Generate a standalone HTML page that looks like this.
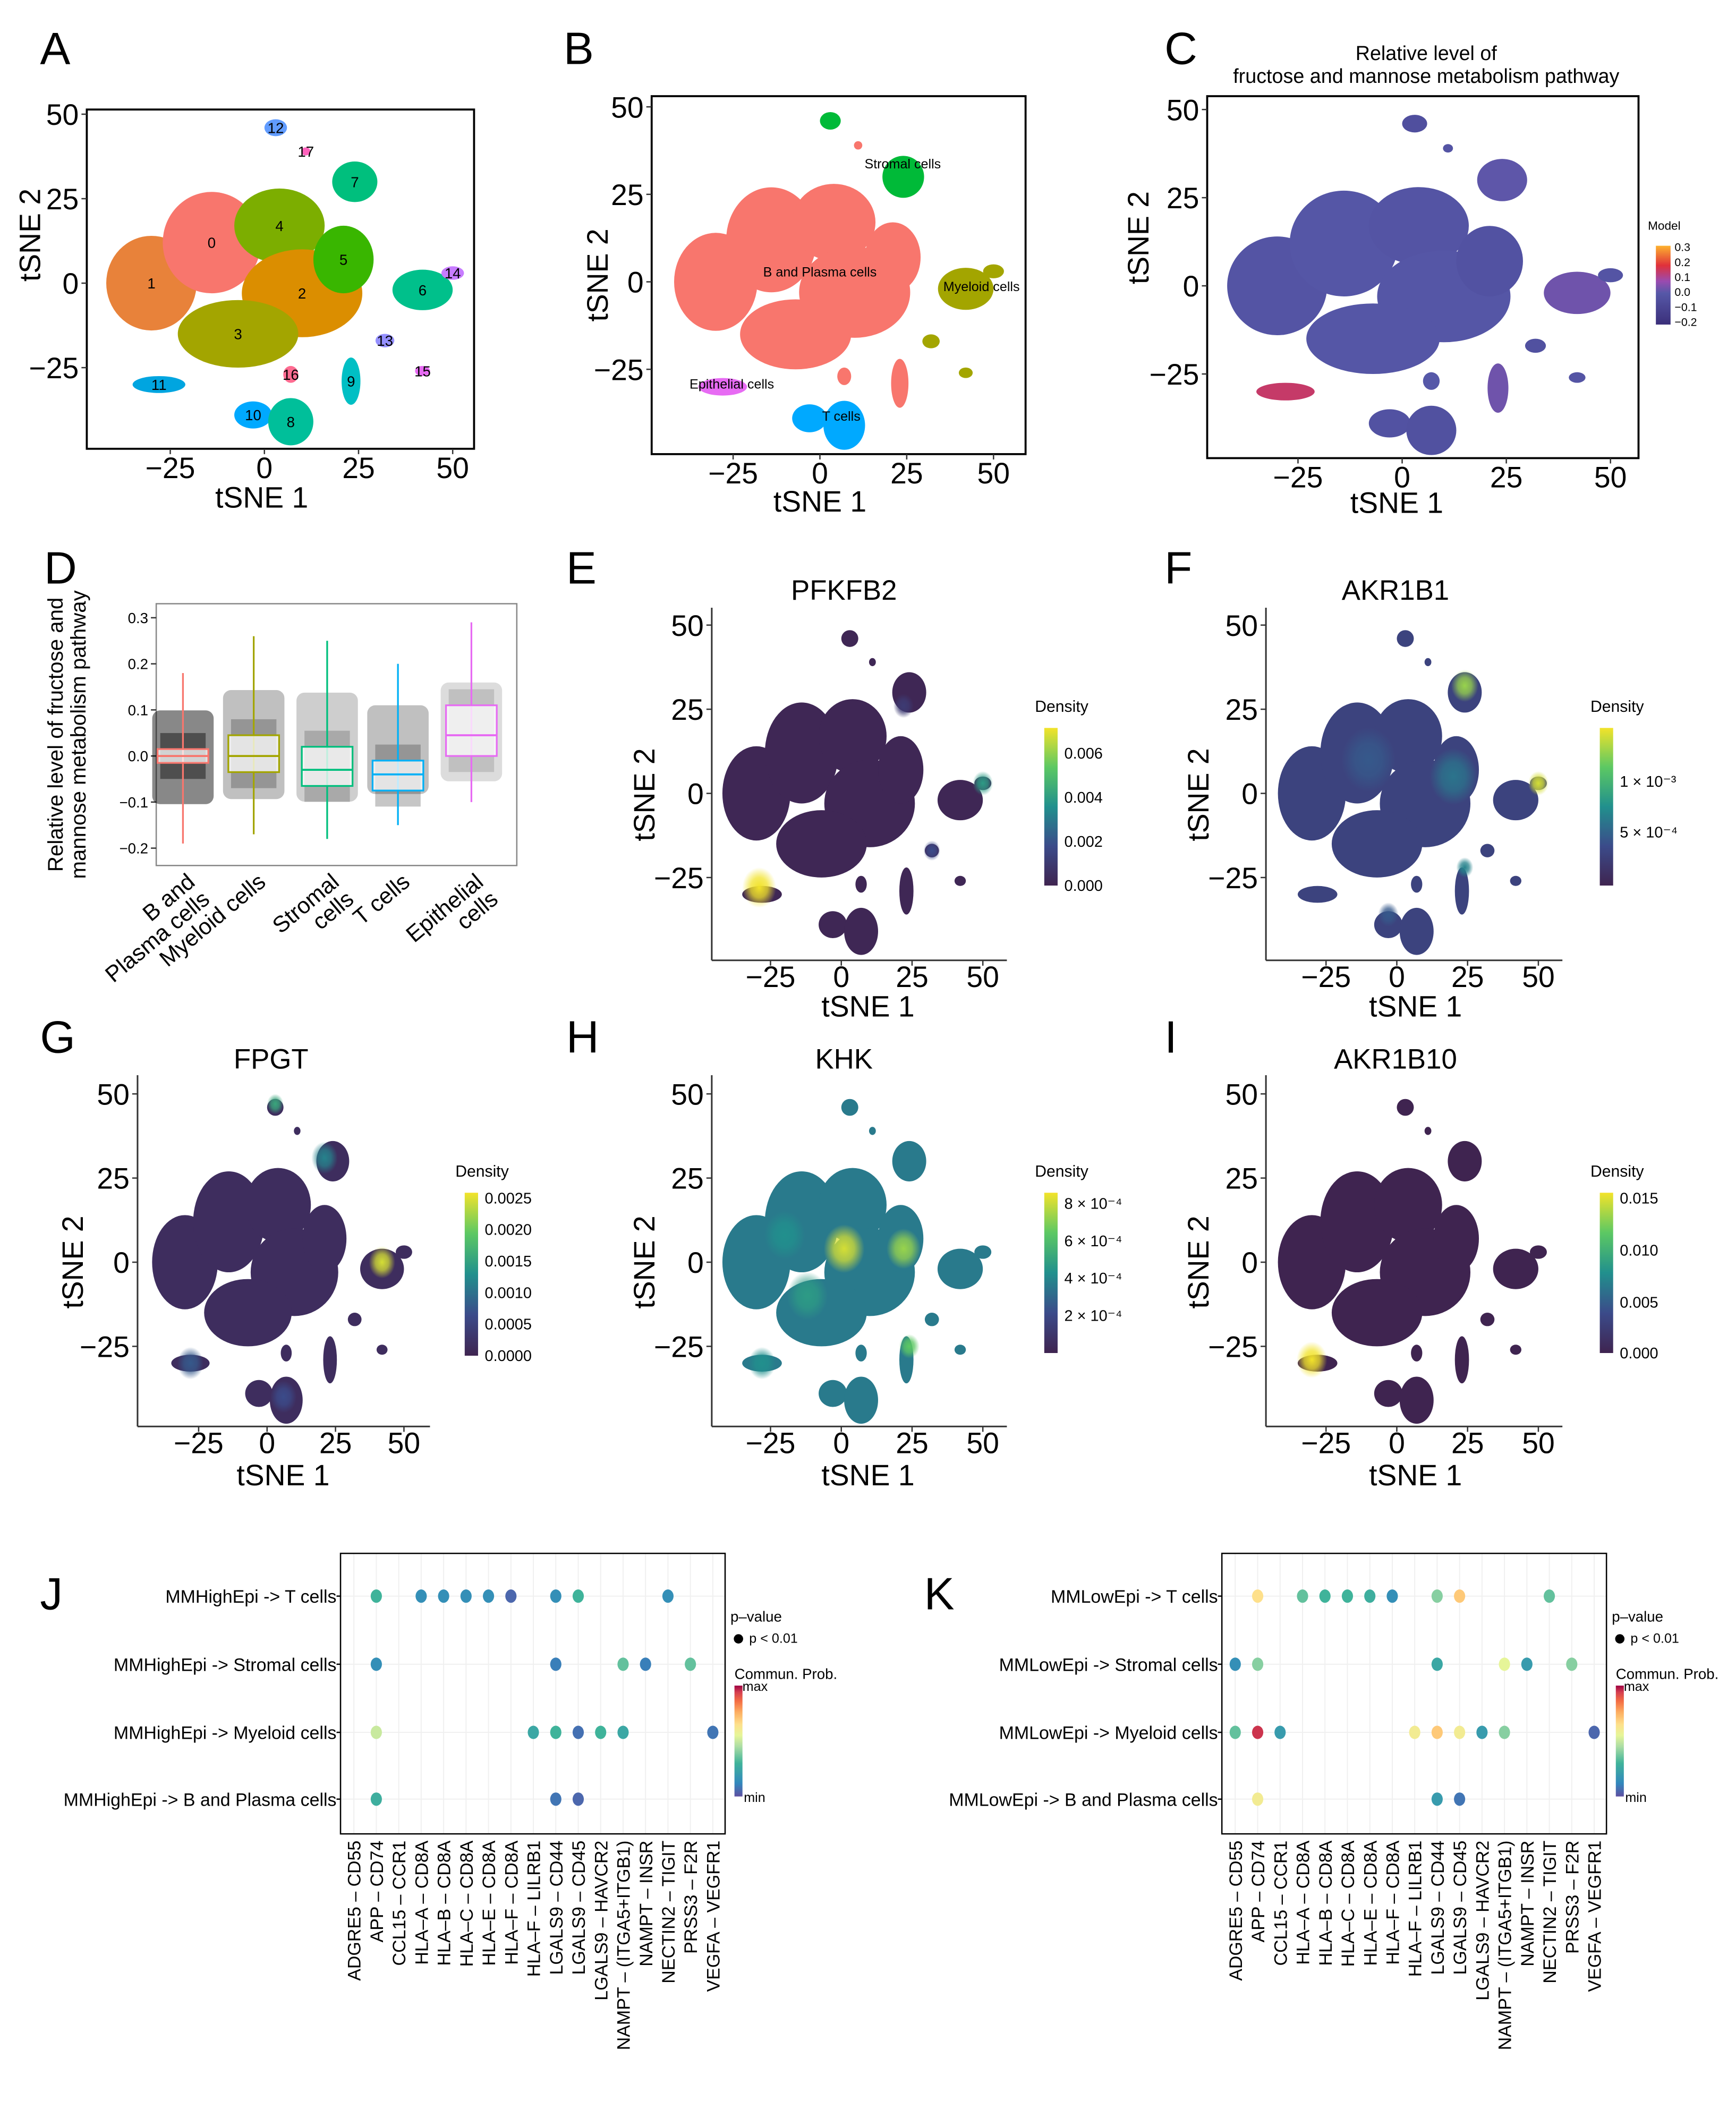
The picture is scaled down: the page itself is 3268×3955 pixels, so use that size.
<!DOCTYPE html>
<html><head><meta charset="utf-8">
<style>
html,body{margin:0;padding:0;background:#fff;}
svg{display:block;font-family:"Liberation Sans",Arial,sans-serif;}
</style></head>
<body>
<svg id="fig" xmlns="http://www.w3.org/2000/svg" width="3268" height="3955" viewBox="0 0 1300 1573" preserveAspectRatio="none">
<rect x="0" y="0" width="1300" height="1573" fill="#fff"/>
<defs id="defs"></defs>
<g id="root"></g>
</svg>
<script>
// ---------- DATA ----------
const clusterIds   = [1,0,4,2,3,5,7,12,17,6,14,13,15,9,16,10,8,11];
const clusterX     = [-30,-14,4,10,-7,21,24,3,11,42,50,32,42,23,7,-3,7,-28];
const clusterY     = [0,12,17,-3,-15,7,30,46,39,-2,3,-17,-26,-29,-27,-39,-41,-30];
const clusterRX    = [12,13,12,16,16,8,6,3,1.2,8,3,2.5,2,2.5,2,5,6,7];
const clusterRY    = [14,15,11,13,10,10,6,2.5,1.2,6,2,2,1.5,7,2.5,4,7,2.5];
const colorA       = ['#e8823a','#f8766d','#7cae00','#db8e00','#a3a500','#39b600','#00bf7d','#619cff','#ff62bc','#00c08b','#c77cff','#9590ff','#e76bf3','#00bfc4','#ff6c91','#00a9ff','#00bf9a','#00a5e0'];
const cellTypeB    = ['B','B','B','B','B','B','S','S','B','M','M','M','M','B','B','T','T','E'];
const typeColors   = {B:'#f8766d',S:'#00ba38',M:'#a3a500',T:'#00a9ff',E:'#e76bf3'};

// C: model score per cluster
const modelScore   = [-0.05,-0.04,-0.05,-0.04,-0.04,-0.06,-0.02,-0.08,-0.05,0.0,-0.05,-0.07,-0.05,0.0,-0.03,-0.06,-0.07,0.12];

// D boxplot
const boxCats   = ['B and Plasma cells','Myeloid cells','Stromal cells','T cells','Epithelial cells'];
const boxMed    = [0.0,0.0,-0.03,-0.04,0.045];
const boxQ1     = [-0.015,-0.035,-0.065,-0.075,0.0];
const boxQ3     = [0.015,0.045,0.02,-0.01,0.11];
const boxLo     = [-0.19,-0.17,-0.18,-0.15,-0.10];
const boxHi     = [0.18,0.26,0.25,0.20,0.29];
const boxColors = ['#f8766d','#a3a500','#00bf7d','#00b0f6','#e76bf3'];
const dTicks    = [0.3,0.2,0.1,0.0,-0.1,-0.2];

// density panels: base level + hotspots [x,y,r,level]
const densBase  = {E:0.02,F:0.2,G:0.06,H:0.42,I:0.0};
const densSpotsE = [[-29,-28,5,1.0],[50,3,3,0.55],[32,-17,2.5,0.25],[22,26,3,0.15]];
const densSpotsF = [[24,32,4,0.85],[50,3,3,0.95],[20,5,7,0.4],[-10,10,8,0.3],[24,-22,2.5,0.45],[-3,-36,3,0.3]];
const densSpotsG = [[42,0,4,0.95],[3,47,2.5,0.6],[21,31,4,0.45],[-28,-30,4,0.3],[6,-40,4,0.25]];
const densSpotsH = [[1,4,6,0.95],[22,4,5,0.85],[-12,-10,6,0.55],[-20,8,6,0.5],[24,-25,3,0.75],[-28,-30,4,0.5]];
const densSpotsI = [[-30,-29,4.5,1.0]];

// J/K
const lrPairs = ['ADGRE5 – CD55','APP – CD74','CCL15 – CCR1','HLA–A – CD8A','HLA–B – CD8A','HLA–C – CD8A','HLA–E – CD8A','HLA–F – CD8A','HLA–F – LILRB1','LGALS9 – CD44','LGALS9 – CD45','LGALS9 – HAVCR2','NAMPT – (ITGA5+ITGB1)','NAMPT – INSR','NECTIN2 – TIGIT','PRSS3 – F2R','VEGFA – VEGFR1'];
const jRowNames = ['MMHighEpi -> T cells','MMHighEpi -> Stromal cells','MMHighEpi -> Myeloid cells','MMHighEpi -> B and Plasma cells'];
const kRowNames = ['MMLowEpi -> T cells','MMLowEpi -> Stromal cells','MMLowEpi -> Myeloid cells','MMLowEpi -> B and Plasma cells'];
const jRow = [0,0,0,0,0,0,0,0,0, 1,1,1,1,1, 2,2,2,2,2,2,2, 3,3,3];
const jCol = [1,3,4,5,6,7,9,10,14, 1,9,12,13,15, 1,8,9,10,11,12,16, 1,9,10];
const jVal = [0.3,0.15,0.15,0.15,0.15,0.05,0.15,0.3,0.15, 0.15,0.1,0.35,0.1,0.35, 0.5,0.25,0.3,0.07,0.3,0.25,0.08, 0.28,0.08,0.05];
const kRow = [0,0,0,0,0,0,0,0,0, 1,1,1,1,1,1, 2,2,2,2,2,2,2,2,2, 3,3,3];
const kCol = [1,3,4,5,6,7,9,10,14, 0,1,9,12,13,15, 0,1,2,8,9,10,11,12,16, 1,9,10];
const kVal = [0.65,0.35,0.3,0.3,0.28,0.15,0.4,0.7,0.35, 0.15,0.4,0.25,0.55,0.2,0.4, 0.35,0.95,0.2,0.6,0.7,0.6,0.2,0.4,0.05, 0.6,0.2,0.08];

// ---------- HELPERS ----------
const NS='http://www.w3.org/2000/svg';
const root=document.getElementById('root');
const defs=document.getElementById('defs');
function el(tag,attrs,parent,txt){const e=document.createElementNS(NS,tag);for(const k in attrs)e.setAttribute(k,attrs[k]);if(txt!==undefined)e.textContent=txt;(parent||root).appendChild(e);return e;}
function lerpHex(a,b,t){const pa=[1,3,5].map(i=>parseInt(a.substr(i,2),16)),pb=[1,3,5].map(i=>parseInt(b.substr(i,2),16));return 'rgb('+pa.map((v,i)=>Math.round(v+(pb[i]-v)*t)).join(',')+')';}
function ramp(stops,t){t=Math.max(0,Math.min(1,t));for(let i=1;i<stops.length;i++){if(t<=stops[i][0]){const s=stops[i-1],e=stops[i];return lerpHex(s[1],e[1],(t-s[0])/(e[0]-s[0]));}}return stops[stops.length-1][1];}
const viridis=[[0,'#3f2450'],[0.25,'#3b4b8a'],[0.5,'#21908d'],[0.75,'#5cc863'],[1,'#f2e32a']];
const spectral=[[0,'#5e4fa2'],[0.12,'#3288bd'],[0.3,'#3fb39a'],[0.45,'#abdda4'],[0.55,'#e6f598'],[0.65,'#fee08b'],[0.76,'#fdae61'],[0.86,'#f46d43'],[0.94,'#d53e4f'],[1,'#9e0142']];
const plasma=[[0,'#3b2f7a'],[0.4,'#5658a8'],[0.55,'#9a4bb0'],[0.75,'#e0303a'],[1,'#fdb22e']];
let gid=0;
function gradV(stops){const id='g'+(gid++);const lg=el('linearGradient',{id:id,x1:0,y1:1,x2:0,y2:0},defs);stops.forEach(s=>el('stop',{offset:s[0],'stop-color':s[1]},lg));return id;}

function letter(t,x,y){const e=el('text',{x:x,y:y,'font-size':34,fill:'#000'},root,t);}
function txt(t,x,y,size,anchor,g,extra){const a={x:x,y:y,'font-size':size,'text-anchor':anchor||'start',fill:'#000'};if(extra)Object.assign(a,extra);return el('text',a,g,t);}

function tsnePanel(name,cfg){
  const g=el('g',{});
  const sx=v=>cfg.x0+cfg.kx*v, sy=v=>cfg.y0-cfg.ky*v;
  if(cfg.frame){const r=el('rect',{x:cfg.box[0],y:cfg.box[1],width:cfg.box[2]-cfg.box[0],height:cfg.box[3]-cfg.box[1],fill:'none',stroke:'#000','stroke-width':1.5},g);}
  else{el('line',{x1:cfg.box[0],y1:cfg.box[1],x2:cfg.box[0],y2:cfg.box[3],stroke:'#333','stroke-width':1.2},g);el('line',{x1:cfg.box[0],y1:cfg.box[3],x2:cfg.box[2],y2:cfg.box[3],stroke:'#333','stroke-width':1.2},g);}
  const cl=el('g',{},g);
  for(let i=0;i<clusterIds.length;i++){
    const e=el('ellipse',{cx:sx(clusterX[i]),cy:sy(clusterY[i]),rx:clusterRX[i]*cfg.kx,ry:clusterRY[i]*cfg.ky,fill:cfg.color(i)},cl);
    
  }
  if(cfg.spots){cfg.spots.forEach((s)=>{const id='rg'+(gid++);const rg=el('radialGradient',{id:id},defs);const c=ramp(viridis,s[3]);el('stop',{offset:0,'stop-color':c,'stop-opacity':1},rg);el('stop',{offset:0.5,'stop-color':c,'stop-opacity':0.75},rg);el('stop',{offset:1,'stop-color':c,'stop-opacity':0},rg);
    const h=el('ellipse',{cx:sx(s[0]),cy:sy(s[1]),rx:s[2]*cfg.kx*1.2,ry:s[2]*cfg.ky*1.2,fill:'url(#'+id+')'},cl);});}
  const fs=22, off=cfg.tickOff||22;
  [50,25,0,-25].forEach(v=>{el('line',{x1:cfg.box[0]-4,y1:sy(v),x2:cfg.box[0],y2:sy(v),stroke:'#333'},g);const t=txt(v==-25?'−25':String(v),cfg.box[0]-6,sy(v)+8,fs,'end',g);});
  [-25,0,25,50].forEach(v=>{el('line',{x1:sx(v),y1:cfg.box[3],x2:sx(v),y2:cfg.box[3]+4,stroke:'#333'},g);const t=txt(v==-25?'−25':String(v),sx(v),cfg.box[3]+off,fs,'middle',g);});
  const xt=txt('tSNE 1',cfg.xl[0],cfg.xl[1],22,'middle',g);
  const yt=txt('tSNE 2',cfg.yl[0],cfg.yl[1],22,'middle',g,{transform:'rotate(-90 '+cfg.yl[0]+' '+cfg.yl[1]+')'});
  if(cfg.title){const tt=txt(cfg.title,cfg.tl[0],cfg.tl[1],21,'middle',g);}
  return {g,sx,sy};
}

// ---------- PANEL A ----------
letter('A',30,48);
const pA=tsnePanel('panel-a-clusters',{x0:198,kx:2.82,y0:212,ky:2.53,box:[65,82,355,336],frame:true,color:i=>colorA[i],xl:[196,380],yl:[30,176]});
clusterIds.forEach((id,i)=>{const t=txt(String(id),pA.sx(clusterX[i]),pA.sy(clusterY[i])+4,11,'middle',pA.g);});

// ---------- PANEL B ----------
letter('B',422,48);
const pB=tsnePanel('panel-b-celltypes',{x0:614,kx:2.6,y0:211,ky:2.62,box:[488,72,768,340],frame:true,color:i=>typeColors[cellTypeB[i]],xl:[614,383],yl:[455,206]});
[['Stromal cells',676,126],['B and Plasma cells',614,207],['Myeloid cells',735,218],['Epithelial cells',548,291],['T cells',630,315]].forEach(l=>{const t=txt(l[0],l[1],l[2],10,'middle',pB.g);});

// ---------- PANEL C ----------
letter('C',872,48);
const pC=tsnePanel('panel-c-model-score',{x0:1050,kx:3.12,y0:214,ky:2.64,box:[904,72,1227,343],frame:true,color:i=>ramp(plasma,(modelScore[i]+0.25)/0.55),xl:[1046,384],yl:[860,178]});
txt('Relative level  of',1068,45,15,'middle',pC.g);
txt('fructose and mannose metabolism pathway',1068,62,15,'middle',pC.g);
(function(){const g=el('g',{});
txt('Model',1234,172,9,'start',g);const id=gradV(plasma);el('rect',{x:1240,y:184,width:11,height:59,fill:'url(#'+id+')'},g);
['0.3','0.2','0.1','0.0','−0.1','−0.2'].forEach((l,i)=>txt(l,1254,188+i*11.2,8.5,'start',g));})();

// ---------- PANEL D ----------
letter('D',33,437);
(function(){const g=el('g',{});
const y0=566,ky=345,sy=v=>y0-ky*v;const bx=[137,190,245,298,353];const bw=38;
el('rect',{x:117,y:452,width:270,height:196,fill:'none',stroke:'#888','stroke-width':1},g);
dTicks.forEach(v=>{el('line',{x1:113,y1:sy(v),x2:117,y2:sy(v),stroke:'#333'},g);txt(v.toFixed(1).replace('-','−'),111,sy(v)+4,11,'end',g);});
const dens=[0.85,0.45,0.35,0.45,0.25];
boxCats.forEach((c,i)=>{const cg=el('g',{},g);
  const x=bx[i];
  el('rect',{x:x-bw/2-4,y:sy(boxHi[i]*0.55),width:bw+8,height:sy(boxLo[i]*0.55)-sy(boxHi[i]*0.55),fill:'#000','fill-opacity':dens[i]*0.55,rx:6},cg);
  el('rect',{x:x-bw/2+2,y:sy(boxQ3[i])-12,width:bw-4,height:sy(boxQ1[i])-sy(boxQ3[i])+24,fill:'#000','fill-opacity':dens[i]*0.5},cg);
  el('line',{x1:x,y1:sy(boxHi[i]),x2:x,y2:sy(boxLo[i]),stroke:boxColors[i],'stroke-width':1.3},cg);
  el('rect',{x:x-bw/2,y:sy(boxQ3[i]),width:bw,height:sy(boxQ1[i])-sy(boxQ3[i]),fill:'#fff','fill-opacity':0.75,stroke:boxColors[i],'stroke-width':1.3},cg);
  el('line',{x1:x-bw/2,y1:sy(boxMed[i]),x2:x+bw/2,y2:sy(boxMed[i]),stroke:boxColors[i],'stroke-width':1.5},cg);
});
const labs=[['B and','Plasma cells'],['Myeloid cells'],['Stromal','cells'],['T cells'],['Epithelial','cells']];
labs.forEach((l,i)=>{const x=bx[i]+10,y=662;l.forEach((s,j)=>{const px=x+j*11,py=y+j*13;const t=txt(s,px,py,17,'end',g,{transform:'rotate(-40 '+px+' '+py+')'});});});
txt('Relative level  of fructose and',47,550,16,'middle',g,{transform:'rotate(-90 47 550)'});
txt('mannose metabolism pathway',64,550,16,'middle',g,{transform:'rotate(-90 64 550)'});
})();

// ---------- DENSITY PANELS ----------
function densLegend(name,x,y,h,labels,pos){const g=el('g',{});
 txt('Density',x-7,y-12,12,'start',g);const id=gradV(viridis);el('rect',{x:x,y:y,width:10,height:h,fill:'url(#'+id+')'},g);
 labels.forEach((l,i)=>{txt(l,x+15,pos[i]+4,11.5,'start',g);});}
function densPanel(name,key,spots,o){return tsnePanel(name,{x0:o.x0,kx:o.kx,y0:o.y0,ky:2.52,box:o.box,frame:false,tickOff:20,color:i=>ramp(viridis,densBase[key]),spots:spots,xl:o.xl,yl:o.yl,title:o.title,tl:o.tl});}
letter('E',424,437);
densPanel('panel-e-pfkfb2','E',densSpotsE,{x0:630,kx:2.12,y0:594,box:[533,455,754,719],xl:[650,761],yl:[490,595],title:'PFKFB2',tl:[632,449]});
densLegend('density-legend-e',782,545,118,['0.006','0.004','0.002','0.000'],[564,597,630,663]);
letter('F',872,437);
densPanel('panel-f-akr1b1','F',densSpotsF,{x0:1046,kx:2.12,y0:594,box:[948,455,1170,719],xl:[1060,761],yl:[905,595],title:'AKR1B1',tl:[1045,449]});
densLegend('density-legend-f',1198,545,118,['1 × 10⁻³','5 × 10⁻⁴'],[585,623]);
letter('G',30,788);
densPanel('panel-g-fpgt','G',densSpotsG,{x0:200,kx:2.05,y0:945,box:[103,805,322,1068],xl:[212,1112],yl:[62,945],title:'FPGT',tl:[203,800]});
densLegend('density-legend-g',348,893,122,['0.0025','0.0020','0.0015','0.0010','0.0005','0.0000'],[897,920.6,944.2,967.8,991.4,1015]);
letter('H',424,788);
densPanel('panel-h-khk','H',densSpotsH,{x0:630,kx:2.12,y0:945,box:[533,805,754,1068],xl:[650,1112],yl:[490,945],title:'KHK',tl:[632,800]});
densLegend('density-legend-h',782,893,120,['8 × 10⁻⁴','6 × 10⁻⁴','4 × 10⁻⁴','2 × 10⁻⁴'],[901,929,957,985]);
letter('I',872,788);
densPanel('panel-i-akr1b10','I',densSpotsI,{x0:1046,kx:2.12,y0:945,box:[948,805,1170,1068],xl:[1060,1112],yl:[905,945],title:'AKR1B10',tl:[1045,800]});
densLegend('density-legend-i',1198,893,120,['0.015','0.010','0.005','0.000'],[897,936,975,1013]);

// ---------- J / K ----------
function dotPanel(name,bx,rowNames,rows,cols,vals){
 const g=el('g',{});
 const cx=i=>bx+10+16.8*i, rowY=[1195,1246,1297,1347];
 lrPairs.forEach((p,i)=>el('line',{x1:cx(i),y1:1163,x2:cx(i),y2:1373,stroke:'#f0f0f0','stroke-width':0.8},g));
 rowY.forEach(y=>el('line',{x1:bx,y1:y,x2:bx+288,y2:y,stroke:'#f0f0f0','stroke-width':0.8},g));
 el('rect',{x:bx,y:1163,width:288,height:210,fill:'none',stroke:'#000','stroke-width':1},g);
 rowNames.forEach((r,i)=>{el('line',{x1:bx-3,y1:rowY[i],x2:bx,y2:rowY[i],stroke:'#000'},g);const t=txt(r,bx-3,rowY[i]+5,13.5,'end',g);});
 lrPairs.forEach((p,i)=>{const x=cx(i)+5,y=1378;const t=txt(p,x,y,13.5,'end',g,{transform:'rotate(-90 '+x+' '+y+')'});});
 for(let k=0;k<vals.length;k++){const c=el('ellipse',{cx:cx(cols[k]),cy:rowY[rows[k]],rx:4.2,ry:5,fill:ramp(spectral,vals[k])},g);}
 const lx=bx+292;
 txt('p–value',lx,1214,11,'start',g);el('circle',{cx:lx+6,cy:1227,r:3.5,fill:'#000'},g);txt('p < 0.01',lx+14,1230,10,'start',g);
 txt('Commun. Prob.',lx+3,1257,11,'start',g);txt('max',lx+9,1266,10,'start',g);
 const id=gradV(spectral);el('rect',{x:lx+3,y:1262,width:6,height:83,fill:'url(#'+id+')'},g);txt('min',lx+10,1349,10,'start',g);
}
letter('J',30,1205);
dotPanel('panel-j-cellchat-high',255,jRowNames,jRow,jCol,jVal);
letter('K',692,1205);
dotPanel('panel-k-cellchat-low',915,kRowNames,kRow,kCol,kVal);
</script>
</body></html>
